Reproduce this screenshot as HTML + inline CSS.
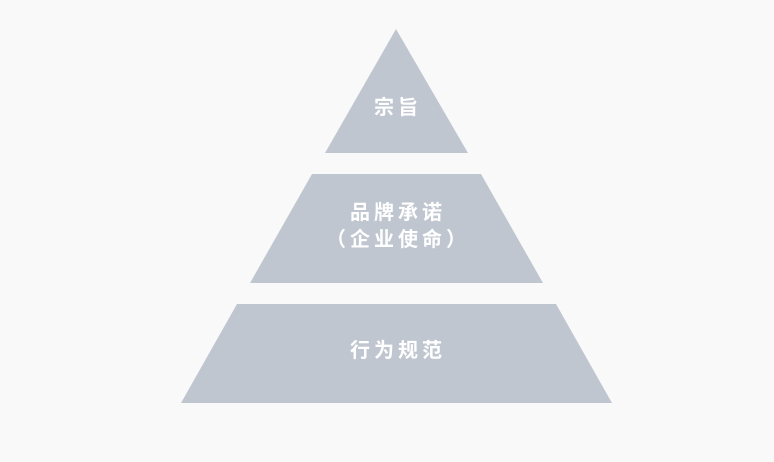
<!DOCTYPE html>
<html><head><meta charset="utf-8"><style>
html,body{margin:0;padding:0;background:#f9f9f9;}
svg{display:block}
text{font-family:"Liberation Sans","Noto Sans CJK SC",sans-serif;font-size:20px;fill:#fff;text-anchor:middle;letter-spacing:4px;font-weight:bold}
</style></head><body>
<svg width="774" height="462" viewBox="0 0 774 462">
<rect width="774" height="462" fill="#f9f9f9"/>
<polygon points="396,29 468,153 325,153" fill="#c0c6d0"/>
<polygon points="312,174 481,174 543,283 250,283" fill="#c0c6d0"/>
<polygon points="237,304 556,304 612,403 181,403" fill="#c0c6d0"/>
<text x="398" y="114">宗旨</text>
<text x="398" y="219">品牌承诺</text>
<text x="398" y="246">（企业使命）</text>
<text x="398" y="357">行为规范</text>
</svg>
</body></html>
